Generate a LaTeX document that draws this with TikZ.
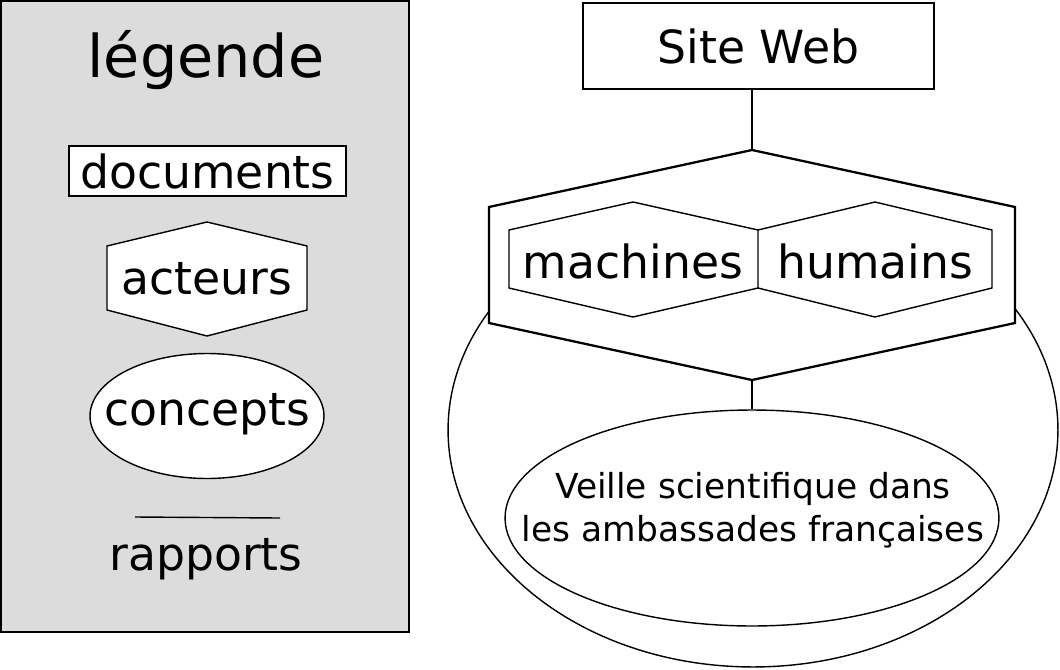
\documentclass[tikz,border=0pt]{standalone}
\usepackage{fontspec}
\setmainfont{DejaVu Sans}
\usetikzlibrary{positioning,shapes.geometric}
\definecolor{legendgray}{RGB}{220,220,220}

\begin{document}
\begin{tikzpicture}[x=0.02cm, y=-0.02cm,
    txt/.style={font=\fontsize{26}{31}\selectfont, inner sep=0pt},
    thinline/.style={line width=0.8pt},
    thickline/.style={line width=1.3pt},
    oval/.style={draw, thinline, ellipse, inner sep=0pt}]
    \useasboundingbox (0,0) rectangle (1060,669);

    % Legend block
    \draw[thinline, fill=legendgray] (1,1) rectangle (409,632);
    \node[font=\fontsize{33.5}{40}\selectfont, anchor=base, inner sep=0pt] (leg) at (206,77) {légende};
    \node[txt, draw, thinline, fill=white, minimum width=5.54cm, minimum height=1cm] (doc) at (207.5,171) {documents};
    % acteurs hexagon
    \draw[thinline, fill=white] (107,246) -- (207,222) -- (307,246) -- (307,310) -- (207,336) -- (107,310) -- cycle;
    \node[txt] (act) at (207,279) {acteurs};
    \node[oval, fill=white, minimum width=4.68cm, minimum height=2.5cm] (conoval) at (207,416) {};
    \node[txt] (con) at (207,414) {concepts};
    \coordinate (rl) at (135,517);
    \coordinate (rr) at (280,518);
    \draw[thinline] (rl) -- (rr);
    \node[txt] (rap) at (206,559) {rapports};

    % Site Web
    \node[txt, draw, thinline, minimum width=7.02cm, minimum height=1.72cm] (site) at (758.5,46) {Site Web};

    % Outer domain ellipse
    \node[oval, minimum width=12.2cm, minimum height=9.48cm] (dom) at (753,430) {};

    % Actors hexagon (machines + humains)
    \coordinate (htop) at (752,150);
    \coordinate (hbot) at (752,380);
    \draw[thickline, fill=white] (htop) -- (1015,207) -- (1015,323) -- (hbot) -- (489,323) -- (489,207) -- cycle;
    \draw[thinline] (509,230) -- (633,202) -- (758,230) -- (758,288) -- (633,317) -- (509,288) -- cycle;
    \draw[thinline] (758,230) -- (875,202) -- (992,230) -- (992,288) -- (875,317) -- (758,288);
    \node[txt] (mach) at (633,261) {machines};
    \node[txt] (hum) at (875,261) {humains};

    % Concept ellipse
    \node[oval, minimum width=9.88cm, minimum height=4.32cm] (veille) at (752,518) {};
    \node[align=center, inner sep=0pt, font=\fontsize{19.6}{24.4}\selectfont] (veilletxt) at (753,510)
          {Veille scientifique dans\\les ambassades françaises};

    % Connections
    \draw[thinline] (site.south -| htop) -- (htop);
    \draw[thinline] (hbot) -- (veille.north);
\end{tikzpicture}
\end{document}
